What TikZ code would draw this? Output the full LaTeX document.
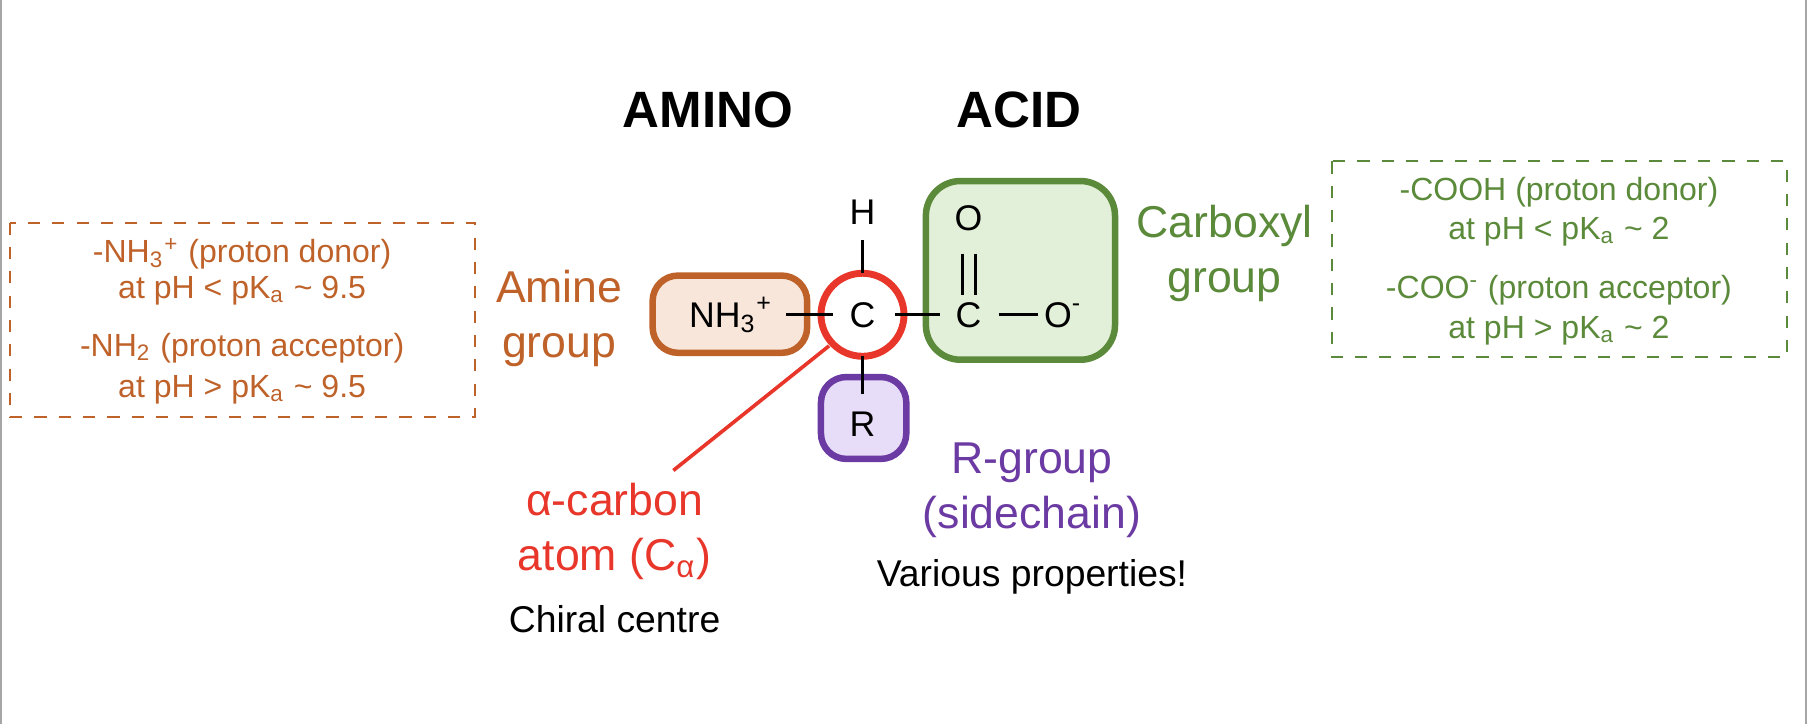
\documentclass[tikz,border=0pt]{standalone}
\usepackage{fontspec}
\setmainfont{Liberation Sans}
\newcommand{\sbs}[1]{\textsubscript{#1}}
\newcommand{\sps}[1]{\textsuperscript{#1}}
\begin{document}
\begin{tikzpicture}[x=0.01cm,y=-0.01cm,
  every node/.style={inner sep=0pt,outer sep=0pt,align=center},
  orng/.style={text=corg},
  grn/.style={text=cgrn},
  big/.style={font=\fontsize{11}{13.5}\selectfont},
  small/.style={font=\fontsize{7.9}{9.5}\selectfont},
  mol/.style={font=\fontsize{8.8}{10}\selectfont},
  bond/.style={line width=0.8pt,black},
  grp/.style={rounded corners=2.2mm,line width=1.6pt}]
\definecolor{corg}{HTML}{BF622A}
\definecolor{cgrn}{HTML}{5B8A3A}
\definecolor{cpur}{HTML}{6B3BA3}
\definecolor{cred}{HTML}{E8372A}
\definecolor{forg}{HTML}{F8E6DA}
\definecolor{fgrn}{HTML}{E3F0D9}
\definecolor{fpur}{HTML}{E8DDF8}
\useasboundingbox (0,0) rectangle (1568,628);
\draw[gray!70,line width=0.5pt] (1,0) -- (1,628) (1566,0) -- (1566,628);
% titles
\node[font=\fontsize{12.6}{14}\selectfont\bfseries] (amino) at (614,95) {AMINO};
\node[font=\fontsize{12.6}{14}\selectfont\bfseries] (acid) at (884,95) {ACID};
% left info box
\draw[corg,dashed,line width=0.5pt] (9,193) rectangle (412,362);
\node[orng,small] (l1) at (210,220) {-NH\sbs{3}\sps{+} (proton donor)};
\node[orng,small] (l2) at (210,252) {at pH < pK\sbs{a} \textasciitilde{} 9.5};
\node[orng,small] (l3) at (210,302) {-NH\sbs{2} (proton acceptor)};
\node[orng,small] (l4) at (210,338) {at pH > pK\sbs{a} \textasciitilde{} 9.5};
\node[orng,big] (amine) at (485,276) {Amine\\group};
% amine box
\draw[grp,corg,fill=forg] (566,239) rectangle (700,306);
\node[mol] (nh3) at (634,273) {NH\sbs{3}\sps{+}};
% alpha carbon
\draw[cred,line width=1.7pt,fill=white] (748,273) circle (36);
\node[mol] (ca) at (748,273) {C};
\node[mol] (h) at (748,184) {H};
% R box
\draw[grp,cpur,fill=fpur] (712,327) rectangle (786,398);
\node[mol] (r) at (748,368) {R};
% carboxyl box
\draw[grp,cgrn,fill=fgrn,rounded corners=3mm] (803,157) rectangle (967,312);
\node[mol] (o1) at (840,189) {O};
\node[mol] (c2) at (840,273) {C};
\node[mol] (o2) at (922,273) {O\sps{-}};
\draw[bond] (835,220) -- (835,256) (846,220) -- (846,256);
% bonds
\draw[bond] (682,273) -- (722,273);
\draw[bond] (776,273) -- (815,273);
\draw[bond] (866,273) -- (900,273);
\draw[bond] (748,208) -- (748,237);
\draw[bond] (748,309) -- (748,342);
\node[grn,big] (carb) at (1062,220) {Carboxyl\\group};
% right info box
\draw[cgrn,dashed,line width=0.5pt] (1155,140) rectangle (1550,310);
\node[grn,small] (r1) at (1352,167) {-COOH (proton donor)};
\node[grn,small] (r2) at (1352,201) {at pH < pK\sbs{a} \textasciitilde{} 2};
\node[grn,small] (r3) at (1352,252) {-COO\sps{-} (proton acceptor)};
\node[grn,small] (r4) at (1352,287) {at pH > pK\sbs{a} \textasciitilde{} 2};
% alpha label
\coordinate (pt) at (584,408);
\draw[cred,line width=0.9pt] (719,300) -- (pt);
\node[text=cred,big] (alpha) at (533,461) {α-carbon\\atom (C\sbs{α})};
\node[font=\fontsize{9.2}{11}\selectfont] (chiral) at (533,537) {Chiral centre};
\node[text=cpur,big] (rg) at (895,425) {R-group\\(sidechain)};
\node[font=\fontsize{9.2}{11}\selectfont] (var) at (895,500) {Various properties!};
\end{tikzpicture}
\end{document}
